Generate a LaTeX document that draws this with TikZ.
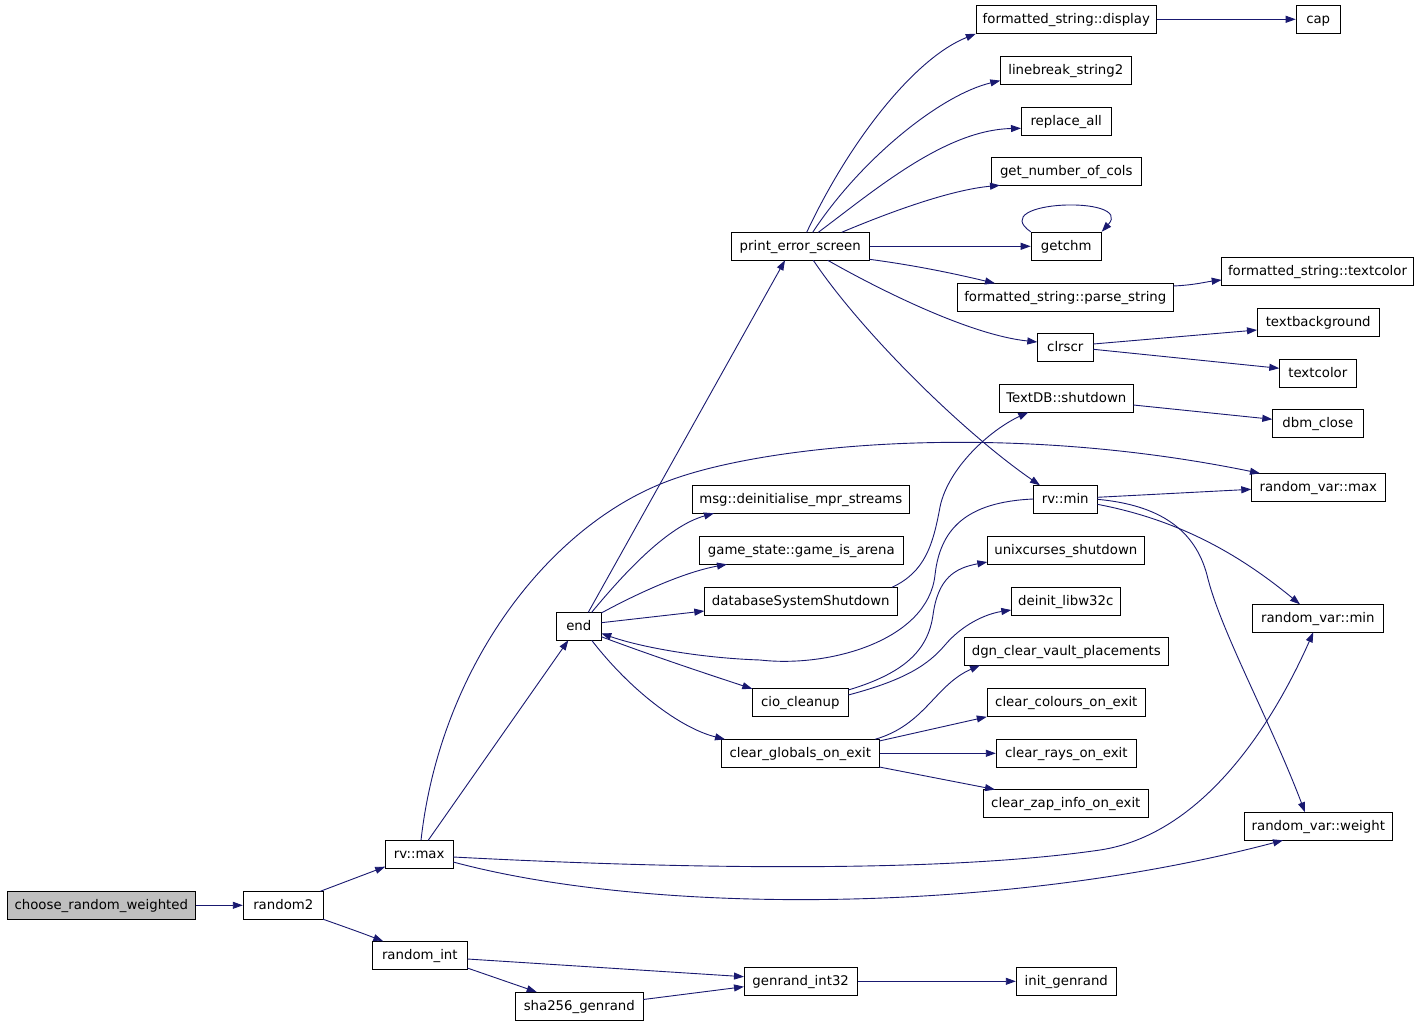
\documentclass[tikz,border=0pt]{standalone}
\usepackage{fontspec}
\setmainfont{DejaVu Sans}
\usetikzlibrary{arrows.meta}
\definecolor{edgecol}{HTML}{191970}
\definecolor{rootfill}{HTML}{BFBFBF}
\begin{document}
\begin{tikzpicture}[x=1pt,y=-1pt,
  fn/.style={draw=black, fill=white, line width=1pt, minimum height=28pt, inner sep=0pt,
             text height=11pt, text depth=3pt, font=\fontsize{13.3}{16}\selectfont, text=black},
  rootfn/.style={fn, fill=rootfill},
  call/.style={draw=edgecol, line width=0.9pt, -{Triangle[length=10pt,width=7pt]}}]
\useasboundingbox[fill=white] (0,0) rectangle (1419,1024);

% nodes
\node[rootfn, minimum width=188pt] (crw) at (101.3,905.3) {choose\_random\_weighted};
\node[fn, minimum width=80pt] (random2) at (283.3,905.3) {random2};
\node[fn, minimum width=68pt] (rvmax) at (419.2,854.3) {rv::max};
\node[fn, minimum width=95pt] (randint) at (419.8,955.3) {random\_int};
\node[fn, minimum width=45pt] (end) at (578.8,626.3) {end};
\node[fn, minimum width=217pt] (msg) at (800.8,499.3) {msg::deinitialise\_mpr\_streams};
\node[fn, minimum width=204pt] (gs) at (801.3,550.3) {game\_state::game\_is\_arena};
\node[fn, minimum width=193pt] (dss) at (800.8,601.3) {databaseSystemShutdown};
\node[fn, minimum width=96pt] (cio) at (800.3,702.3) {cio\_cleanup};
\node[fn, minimum width=158pt] (cgoe) at (800.3,753.3) {clear\_globals\_on\_exit};
\node[fn, minimum width=138pt] (pes) at (800.2,246.3) {print\_error\_screen};
\node[fn, minimum width=180pt] (fsd) at (1066.3,19.3) {formatted\_string::display};
\node[fn, minimum width=131pt] (lbs) at (1065.8,70.3) {linebreak\_string2};
\node[fn, minimum width=90pt] (ra) at (1066.2,121.3) {replace\_all};
\node[fn, minimum width=150pt] (gnc) at (1066.3,171.3) {get\_number\_of\_cols};
\node[fn, minimum width=70pt] (getchm) at (1066.2,246.3) {getchm};
\node[fn, minimum width=216pt] (fsps) at (1065.3,297.3) {formatted\_string::parse\_string};
\node[fn, minimum width=56pt] (clrscr) at (1065.3,347.3) {clrscr};
\node[fn, minimum width=134pt] (tdb) at (1066.3,398.3) {TextDB::shutdown};
\node[fn, minimum width=64pt] (rvmin) at (1065.3,499.3) {rv::min};
\node[fn, minimum width=157pt] (ucs) at (1065.8,550.3) {unixcurses\_shutdown};
\node[fn, minimum width=109pt] (dl) at (1065.8,601.3) {deinit\_libw32c};
\node[fn, minimum width=204pt] (dgn) at (1066.3,651.3) {dgn\_clear\_vault\_placements};
\node[fn, minimum width=158pt] (cce) at (1066.3,702.3) {clear\_colours\_on\_exit};
\node[fn, minimum width=140pt] (cre) at (1066.3,753.3) {clear\_rays\_on\_exit};
\node[fn, minimum width=165pt] (czi) at (1065.8,803.5) {clear\_zap\_info\_on\_exit};
\node[fn, minimum width=44pt] (cap) at (1318.2,19.3) {cap};
\node[fn, minimum width=192pt] (fst) at (1317.5,271.3) {formatted\_string::textcolor};
\node[fn, minimum width=122pt] (tbg) at (1318.2,322.3) {textbackground};
\node[fn, minimum width=77pt] (tc) at (1317.8,373.3) {textcolor};
\node[fn, minimum width=91pt] (dbm) at (1317.8,423.3) {dbm\_close};
\node[fn, minimum width=134pt] (rvmx) at (1318.3,487.3) {random\_var::max};
\node[fn, minimum width=131pt] (rvmn) at (1317.8,618.3) {random\_var::min};
\node[fn, minimum width=148pt] (rvw) at (1318.3,826.3) {random\_var::weight};
\node[fn, minimum width=113pt] (genr) at (800.7,981.3) {genrand\_int32};
\node[fn, minimum width=100pt] (init) at (1066.3,981.3) {init\_genrand};
\node[fn, minimum width=128pt] (sha) at (579.3,1006) {sha256\_genrand};

% edges
\draw[call] (crw.east) -- (random2.west);
\draw[call] ([shift={(37,-14)}]random2.center) -- ([shift={(-34,12.4)}]rvmax.center);
\draw[call] ([shift={(40,14)}]random2.center) .. controls (345,927) and (362,933) .. ([shift={(-36.5,-14)}]randint.center);
\draw[call] ([shift={(9,-14)}]rvmax.center) -- ([shift={(-10.5,14)}]end.center);
\draw[call] ([shift={(1.8,-14)}]rvmax.center) .. controls (440,670) and (545,530) .. (663,483)
   .. controls (757,445) and (1000,420) .. ([shift={(-58.3,-14)}]rvmx.center);
\draw[call] ([shift={(34,2.7)}]rvmax.center) .. controls (700,870) and (950,872) .. (1100,850)
   .. controls (1200,835) and (1270,730) .. ([shift={(-4.5,14)}]rvmn.center);
\draw[call] ([shift={(34,7.7)}]rvmax.center) .. controls (650,915) and (1000,915) .. ([shift={(-35.3,14)}]rvw.center);

\draw[call] ([shift={(9.5,-14)}]end.center) -- ([shift={(-15.2,14)}]pes.center);
\draw[call] ([shift={(12.9,-14)}]end.center) .. controls (625,572) and (668,526) .. ([shift={(-86.8,14)}]msg.center);
\draw[call] ([shift={(22.5,-13.3)}]end.center) .. controls (640,592) and (685,572) .. ([shift={(-74.3,14)}]gs.center);
\draw[call] ([shift={(22.5,-3.6)}]end.center) -- ([shift={(-96.5,9.7)}]dss.center);
\draw[call] ([shift={(22.5,10.4)}]end.center) .. controls (650,655) and (710,675) .. ([shift={(-48,-13.5)}]cio.center);
\draw[call] ([shift={(12.9,14)}]end.center) .. controls (630,690) and (680,728) .. ([shift={(-75.3,-14)}]cgoe.center);
\draw[call] ([shift={(-32,-0.3)}]rvmin.center) .. controls (965,502) and (940,530) .. (935,575)
   .. controls (928,640) and (830,668) .. (760,660)
   .. controls (700,658) and (640,647) .. ([shift={(22.5,7)}]end.center);

\draw[call] ([shift={(91.2,-14)}]dss.center) .. controls (925,572) and (933,545) .. (940,507)
   .. controls (948,468) and (990,430) .. ([shift={(-38,14)}]tdb.center);
\draw[call] ([shift={(48,-12.3)}]cio.center) .. controls (905,673) and (928,650) .. (933,615)
   .. controls (938,578) and (955,568) .. ([shift={(-78.5,11.7)}]ucs.center);
\draw[call] ([shift={(48,-7.3)}]cio.center) .. controls (905,680) and (928,665) .. (945,645)
   .. controls (962,625) and (985,614) .. ([shift={(-54.5,8.7)}]dl.center);

\draw[call] ([shift={(74.7,-14)}]cgoe.center) .. controls (925,725) and (935,685) .. ([shift={(-86.3,14)}]dgn.center);
\draw[call] ([shift={(79,-12.3)}]cgoe.center) -- (cce.south west);
\draw[call] (cgoe.east) -- (cre.west);
\draw[call] ([shift={(79,13.7)}]cgoe.center) -- ([shift={(-70.8,-14)}]czi.center);

\draw[call] ([shift={(6.5,-14)}]pes.center) .. controls (850,140) and (915,58) .. (fsd.south west);
\draw[call] ([shift={(12.5,-14)}]pes.center) .. controls (860,160) and (940,95) .. ([shift={(-65.5,10.3)}]lbs.center);
\draw[call] ([shift={(18.1,-14)}]pes.center) .. controls (875,190) and (945,130) .. ([shift={(-45.2,7)}]ra.center);
\draw[call] ([shift={(41.5,-14)}]pes.center) .. controls (890,212) and (950,190) .. ([shift={(-66.3,14)}]gnc.center);
\draw[call] (pes.east) -- (getchm.west);
\draw[call] (getchm.north west) .. controls (985,200) and (1135,195) .. (getchm.north east);
\draw[call] ([shift={(69.1,13)}]pes.center) .. controls (920,266) and (960,275) .. ([shift={(-70.3,-14)}]fsps.center);
\draw[call] ([shift={(27.5,14)}]pes.center) .. controls (880,290) and (970,335) .. ([shift={(-28,-5.3)}]clrscr.center);
\draw[call] ([shift={(13.1,14)}]pes.center) .. controls (860,330) and (960,430) .. ([shift={(-25.3,-14)}]rvmin.center);

\draw[call] (fsd.east) -- (cap.west);
\draw[call] ([shift={(108,-11.3)}]fsps.center) .. controls (1195,285) and (1205,282) .. ([shift={(-95.8,8.7)}]fst.center);
\draw[call] ([shift={(28,-3.3)}]clrscr.center) -- ([shift={(-61.2,7.7)}]tbg.center);
\draw[call] ([shift={(28,2)}]clrscr.center) -- ([shift={(-38.5,-5)}]tc.center);
\draw[call] ([shift={(67,6.7)}]tdb.center) -- ([shift={(-45.5,-4)}]dbm.center);

\draw[call] ([shift={(32,-2)}]rvmin.center) -- ([shift={(-67,2)}]rvmx.center);
\draw[call] ([shift={(32,5)}]rvmin.center) .. controls (1180,520) and (1240,555) .. ([shift={(-17.8,-14)}]rvmn.center);
\draw[call] ([shift={(32,0)}]rvmin.center) .. controls (1160,505) and (1195,530) .. (1207,575)
   .. controls (1220,630) and (1270,720) .. ([shift={(-13.3,-14)}]rvw.center);

\draw[call] ([shift={(47.5,3.7)}]randint.center) -- ([shift={(-56.7,-4.6)}]genr.center);
\draw[call] ([shift={(47.5,12.7)}]randint.center) -- ([shift={(-42.6,-14)}]sha.center);
\draw[call] ([shift={(64,-6.5)}]sha.center) -- ([shift={(-56.7,5.4)}]genr.center);
\draw[call] (genr.east) -- (init.west);
\end{tikzpicture}
\end{document}
